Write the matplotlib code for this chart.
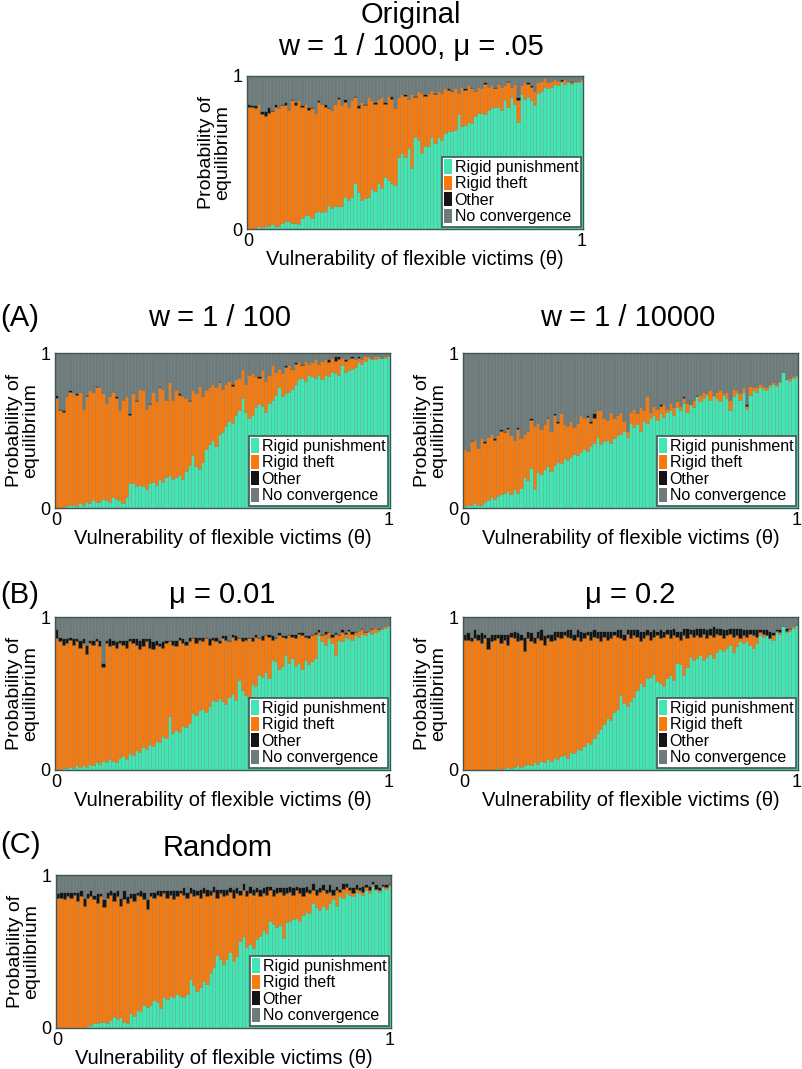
import numpy as np
import matplotlib
matplotlib.use('Agg')
import matplotlib.pyplot as plt
from matplotlib.patches import Patch

plt.rcParams['font.family'] = ['Liberation Sans', 'DejaVu Sans']

# cores
teal = '#42E6B2'
orange = '#F97A0C'
black = '#141414'
gray = '#6F7A7A'
frame = '#3E5656'

theta = np.linspace(0, 1, 101)
labels = ['Rigid punishment', 'Rigid theft', 'Other', 'No convergence']

# ---- Original  w = 1/1000, mu = .05
orig_punish = [0.0, 0.0, 0.0, 0.02, 0.01, 0.02, 0.02, 0.03, 0.02, 0.02,
               0.04, 0.05, 0.05, 0.04, 0.04, 0.03, 0.07, 0.09, 0.09, 0.07,
               0.11, 0.12, 0.11, 0.12, 0.16, 0.14, 0.15, 0.15, 0.15, 0.21,
               0.19, 0.21, 0.30, 0.24, 0.19, 0.20, 0.21, 0.26, 0.25, 0.30,
               0.27, 0.34, 0.32, 0.30, 0.29, 0.47, 0.50, 0.47, 0.53, 0.40,
               0.60, 0.58, 0.50, 0.54, 0.54, 0.60, 0.56, 0.60, 0.58, 0.63,
               0.64, 0.64, 0.65, 0.75, 0.67, 0.68, 0.70, 0.69, 0.74, 0.76,
               0.76, 0.75, 0.78, 0.79, 0.80, 0.80, 0.78, 0.84, 0.80, 0.86,
               0.82, 0.70, 0.88, 0.85, 0.86, 0.84, 0.81, 0.89, 0.90, 0.93,
               0.92, 0.93, 0.95, 0.94, 0.96, 0.95, 0.96, 0.95, 0.96, 0.96,
               0.97]
orig_theft_top = [0.80, 0.80, 0.79, 0.82, 0.75, 0.74, 0.76, 0.77, 0.80, 0.79,
                  0.81, 0.81, 0.78, 0.84, 0.81, 0.84, 0.80, 0.82, 0.78, 0.79,
                  0.76, 0.83, 0.82, 0.80, 0.79, 0.78, 0.82, 0.85, 0.81, 0.83,
                  0.80, 0.84, 0.86, 0.79, 0.83, 0.81, 0.86, 0.84, 0.82, 0.85,
                  0.86, 0.82, 0.87, 0.85, 0.79, 0.86, 0.88, 0.87, 0.85, 0.88,
                  0.86, 0.90, 0.89, 0.87, 0.89, 0.91, 0.88, 0.90, 0.89, 0.92,
                  0.91, 0.90, 0.92, 0.89, 0.93, 0.91, 0.94, 0.92, 0.90, 0.93,
                  0.92, 0.95, 0.93, 0.94, 0.92, 0.95, 0.93, 0.94, 0.96, 0.93,
                  0.95, 0.84, 0.94, 0.96, 0.95, 0.93, 0.90, 0.96, 0.97, 0.99,
                  0.96, 0.97, 0.98, 0.97, 0.97, 0.98, 0.97, 0.96, 0.97, 0.97,
                  0.98]
orig_other = [0.02, 0.01, 0.02, 0.0, 0.02, 0.03, 0.04, 0.01, 0.02, 0.0,
              0.01, 0.02, 0.0, 0.01, 0.02, 0.0, 0.01, 0.0, 0.02, 0.01,
              0.0, 0.01, 0.0, 0.02, 0.01, 0.0, 0.0, 0.01, 0.0, 0.02,
              0.0, 0.0, 0.01, 0.02, 0.0, 0.01, 0.0, 0.0, 0.01, 0.0,
              0.0, 0.01, 0.0, 0.02, 0.0, 0.0, 0.0, 0.01, 0.0, 0.0,
              0.01, 0.0, 0.0, 0.01, 0.0, 0.0, 0.01, 0.0, 0.0, 0.0,
              0.01, 0.01, 0.0, 0.0, 0.0, 0.01, 0.0, 0.01, 0.0, 0.0,
              0.0, 0.01, 0.0, 0.0, 0.01, 0.0, 0.0, 0.0, 0.01, 0.0,
              0.0, 0.02, 0.0, 0.0, 0.01, 0.01, 0.0, 0.0, 0.0, 0.0,
              0.0, 0.0, 0.0, 0.0, 0.01, 0.0, 0.0, 0.01, 0.0, 0.0,
              0.0]

# ---- (A) w = 1/100
a1_punish = [0.0, 0.0, 0.0, 0.01, 0.02, 0.02, 0.01, 0.03, 0.02, 0.04,
             0.03, 0.05, 0.04, 0.04, 0.06, 0.05, 0.04, 0.07, 0.06, 0.05,
             0.03, 0.07, 0.16, 0.16, 0.14, 0.15, 0.14, 0.12, 0.16, 0.17,
             0.15, 0.19, 0.17, 0.20, 0.21, 0.19, 0.20, 0.21, 0.19, 0.24,
             0.28, 0.34, 0.27, 0.25, 0.30, 0.38, 0.41, 0.44, 0.40, 0.48,
             0.49, 0.53, 0.56, 0.55, 0.60, 0.63, 0.71, 0.62, 0.58, 0.60,
             0.65, 0.67, 0.66, 0.62, 0.68, 0.70, 0.73, 0.78, 0.72, 0.74,
             0.75, 0.77, 0.80, 0.83, 0.84, 0.82, 0.86, 0.85, 0.84, 0.86,
             0.83, 0.86, 0.85, 0.88, 0.87, 0.86, 0.92, 0.88, 0.89, 0.90,
             0.91, 0.94, 0.93, 0.95, 0.97, 0.96, 0.96, 0.97, 0.97, 0.97,
             0.98]
a1_theft_top = [0.71, 0.63, 0.62, 0.72, 0.75, 0.74, 0.73, 0.75, 0.64, 0.72,
                0.76, 0.75, 0.78, 0.78, 0.74, 0.68, 0.72, 0.75, 0.71, 0.63,
                0.70, 0.72, 0.60, 0.74, 0.69, 0.77, 0.76, 0.64, 0.67, 0.75,
                0.69, 0.78, 0.77, 0.70, 0.81, 0.70, 0.76, 0.73, 0.72, 0.71,
                0.69, 0.76, 0.74, 0.79, 0.72, 0.76, 0.78, 0.80, 0.78, 0.81,
                0.77, 0.80, 0.82, 0.79, 0.83, 0.84, 0.90, 0.80, 0.86, 0.87,
                0.85, 0.84, 0.89, 0.82, 0.86, 0.92, 0.88, 0.90, 0.87, 0.91,
                0.92, 0.90, 0.93, 0.94, 0.92, 0.95, 0.93, 0.94, 0.96, 0.93,
                0.95, 0.96, 0.94, 0.97, 0.95, 0.96, 0.97, 0.95, 0.96, 0.97,
                0.96, 0.97, 0.96, 0.98, 0.98, 0.97, 0.98, 0.98, 0.97, 0.98,
                0.99]
a1_other = [0.02, 0.01, 0.01, 0.0, 0.01, 0.0, 0.01, 0.0, 0.0, 0.01,
            0.0, 0.0, 0.01, 0.0, 0.0, 0.0, 0.0, 0.0, 0.01, 0.0,
            0.0, 0.0, 0.01, 0.0, 0.01, 0.0, 0.0, 0.0, 0.01, 0.0,
            0.0, 0.01, 0.0, 0.0, 0.0, 0.0, 0.0, 0.01, 0.0, 0.0,
            0.01, 0.0, 0.0, 0.0, 0.0, 0.0, 0.0, 0.0, 0.0, 0.01,
            0.0, 0.0, 0.0, 0.01, 0.0, 0.0, 0.0, 0.0, 0.0, 0.0,
            0.0, 0.01, 0.0, 0.0, 0.0, 0.0, 0.0, 0.0, 0.0, 0.01,
            0.0, 0.0, 0.01, 0.0, 0.01, 0.0, 0.0, 0.0, 0.0, 0.0,
            0.0, 0.0, 0.02, 0.0, 0.03, 0.02, 0.0, 0.01, 0.0, 0.01,
            0.0, 0.01, 0.0, 0.0, 0.0, 0.0, 0.0, 0.0, 0.0, 0.0,
            0.0]

# ---- (A) w = 1/10000
a2_punish = [0.01, 0.02, 0.02, 0.03, 0.02, 0.02, 0.04, 0.05, 0.07, 0.06,
             0.08, 0.09, 0.10, 0.11, 0.09, 0.12, 0.10, 0.13, 0.20, 0.18,
             0.26, 0.12, 0.23, 0.22, 0.25, 0.27, 0.24, 0.28, 0.30, 0.29,
             0.32, 0.31, 0.33, 0.35, 0.34, 0.36, 0.38, 0.37, 0.40, 0.42,
             0.46, 0.41, 0.43, 0.44, 0.42, 0.45, 0.47, 0.48, 0.50, 0.46,
             0.55, 0.52, 0.54, 0.50, 0.56, 0.55, 0.58, 0.60, 0.57, 0.61,
             0.59, 0.62, 0.63, 0.60, 0.65, 0.63, 0.68, 0.62, 0.70, 0.65,
             0.72, 0.69, 0.71, 0.73, 0.70, 0.72, 0.71, 0.69, 0.73, 0.71,
             0.63, 0.72, 0.74, 0.70, 0.75, 0.64, 0.73, 0.76, 0.75, 0.78,
             0.77, 0.76, 0.79, 0.80, 0.79, 0.81, 0.88, 0.83, 0.82, 0.84,
             0.85]
a2_theft_top = [0.38, 0.37, 0.43, 0.44, 0.39, 0.45, 0.42, 0.46, 0.48, 0.44,
                0.47, 0.50, 0.49, 0.51, 0.47, 0.44, 0.51, 0.45, 0.48, 0.50,
                0.57, 0.53, 0.55, 0.51, 0.54, 0.58, 0.50, 0.60, 0.55, 0.61,
                0.54, 0.53, 0.56, 0.52, 0.55, 0.60, 0.58, 0.59, 0.55, 0.58,
                0.63, 0.63, 0.58, 0.57, 0.62, 0.58, 0.60, 0.62, 0.56, 0.50,
                0.62, 0.64, 0.61, 0.65, 0.63, 0.72, 0.62, 0.66, 0.64, 0.66,
                0.67, 0.64, 0.68, 0.65, 0.69, 0.66, 0.71, 0.68, 0.67, 0.70,
                0.72, 0.73, 0.75, 0.74, 0.76, 0.73, 0.75, 0.76, 0.74, 0.75,
                0.70, 0.77, 0.76, 0.74, 0.78, 0.66, 0.79, 0.78, 0.78, 0.80,
                0.79, 0.78, 0.80, 0.81, 0.80, 0.82, 0.88, 0.83, 0.84, 0.85,
                0.86]
a2_other = [0.0, 0.0, 0.01, 0.0, 0.0, 0.0, 0.01, 0.0, 0.0, 0.01,
            0.0, 0.01, 0.01, 0.01, 0.0, 0.0, 0.01, 0.0, 0.0, 0.0,
            0.01, 0.0, 0.0, 0.0, 0.0, 0.01, 0.0, 0.01, 0.01, 0.0,
            0.0, 0.0, 0.0, 0.0, 0.0, 0.0, 0.0, 0.01, 0.01, 0.03,
            0.0, 0.0, 0.0, 0.0, 0.0, 0.0, 0.0, 0.0, 0.0, 0.0,
            0.0, 0.0, 0.0, 0.0, 0.0, 0.0, 0.0, 0.0, 0.0, 0.01,
            0.0, 0.0, 0.0, 0.0, 0.0, 0.0, 0.01, 0.0, 0.0, 0.0,
            0.01, 0.0, 0.0, 0.0, 0.0, 0.0, 0.0, 0.0, 0.0, 0.0,
            0.0, 0.0, 0.0, 0.0, 0.0, 0.01, 0.0, 0.0, 0.0, 0.0,
            0.0, 0.0, 0.0, 0.0, 0.0, 0.0, 0.0, 0.0, 0.0, 0.0,
            0.0]

# ---- (B) mu = 0.01
b1_punish = [0.0, 0.0, 0.01, 0.01, 0.02, 0.01, 0.03, 0.02, 0.03, 0.02,
             0.04, 0.03, 0.05, 0.04, 0.06, 0.05, 0.07, 0.06, 0.05, 0.08,
             0.09, 0.07, 0.11, 0.10, 0.13, 0.12, 0.15, 0.14, 0.17, 0.16,
             0.19, 0.18, 0.22, 0.21, 0.35, 0.24, 0.26, 0.25, 0.29, 0.28,
             0.31, 0.37, 0.36, 0.39, 0.40, 0.38, 0.42, 0.46, 0.45, 0.47,
             0.45, 0.43, 0.48, 0.50, 0.46, 0.59, 0.52, 0.49, 0.47, 0.56,
             0.55, 0.62, 0.61, 0.64, 0.60, 0.72, 0.71, 0.66, 0.68, 0.75,
             0.70, 0.73, 0.68, 0.70, 0.66, 0.72, 0.69, 0.71, 0.73, 0.88,
             0.84, 0.82, 0.86, 0.83, 0.75, 0.85, 0.84, 0.87, 0.86, 0.85,
             0.88, 0.87, 0.89, 0.88, 0.90, 0.89, 0.90, 0.91, 0.92, 0.93,
             0.94]
b1_theft_top = [0.86, 0.84, 0.82, 0.83, 0.85, 0.82, 0.84, 0.80, 0.83, 0.76,
                0.83, 0.82, 0.84, 0.81, 0.67, 0.83, 0.81, 0.82, 0.80, 0.83,
                0.82, 0.80, 0.84, 0.83, 0.82, 0.79, 0.81, 0.84, 0.80, 0.79,
                0.82, 0.81, 0.80, 0.83, 0.84, 0.82, 0.81, 0.85, 0.83, 0.82,
                0.84, 0.86, 0.83, 0.85, 0.84, 0.86, 0.82, 0.85, 0.84, 0.83,
                0.86, 0.85, 0.84, 0.87, 0.85, 0.86, 0.84, 0.85, 0.86, 0.84,
                0.87, 0.86, 0.85, 0.88, 0.87, 0.85, 0.86, 0.88, 0.87, 0.86,
                0.88, 0.87, 0.86, 0.89, 0.88, 0.87, 0.86, 0.88, 0.89, 0.90,
                0.88, 0.89, 0.90, 0.87, 0.89, 0.88, 0.90, 0.89, 0.91, 0.89,
                0.90, 0.91, 0.92, 0.90, 0.91, 0.92, 0.93, 0.92, 0.93, 0.94,
                0.95]
b1_other = [0.06, 0.03, 0.04, 0.03, 0.02, 0.04, 0.02, 0.05, 0.03, 0.06,
            0.02, 0.03, 0.02, 0.04, 0.03, 0.02, 0.05, 0.03, 0.04, 0.02,
            0.03, 0.05, 0.02, 0.03, 0.04, 0.06, 0.05, 0.02, 0.06, 0.05,
            0.03, 0.02, 0.04, 0.02, 0.01, 0.03, 0.04, 0.02, 0.03, 0.02,
            0.03, 0.01, 0.04, 0.02, 0.03, 0.01, 0.04, 0.02, 0.03, 0.02,
            0.02, 0.03, 0.01, 0.02, 0.03, 0.01, 0.03, 0.02, 0.01, 0.03,
            0.02, 0.01, 0.03, 0.01, 0.02, 0.03, 0.01, 0.02, 0.01, 0.02,
            0.01, 0.02, 0.03, 0.01, 0.02, 0.01, 0.02, 0.01, 0.01, 0.02,
            0.01, 0.02, 0.01, 0.02, 0.01, 0.01, 0.02, 0.01, 0.01, 0.02,
            0.01, 0.0, 0.01, 0.01, 0.0, 0.01, 0.0, 0.01, 0.0, 0.0,
            0.0]

# ---- (B) mu = 0.2
b2_punish = [0.0, 0.0, 0.0, 0.0, 0.0, 0.0, 0.0, 0.0, 0.0, 0.0,
             0.01, 0.0, 0.01, 0.02, 0.01, 0.02, 0.03, 0.02, 0.03, 0.04,
             0.03, 0.05, 0.04, 0.06, 0.05, 0.07, 0.06, 0.08, 0.07, 0.09,
             0.10, 0.08, 0.12, 0.11, 0.14, 0.13, 0.16, 0.18, 0.17, 0.21,
             0.24, 0.27, 0.30, 0.34, 0.33, 0.38, 0.40, 0.49, 0.44, 0.42,
             0.45, 0.48, 0.52, 0.57, 0.55, 0.60, 0.61, 0.63, 0.58, 0.57,
             0.55, 0.60, 0.62, 0.59, 0.70, 0.69, 0.62, 0.67, 0.74, 0.72,
             0.73, 0.75, 0.72, 0.74, 0.76, 0.73, 0.77, 0.79, 0.78, 0.80,
             0.82, 0.77, 0.81, 0.84, 0.83, 0.84, 0.82, 0.80, 0.83, 0.88,
             0.87, 0.88, 0.86, 0.85, 0.90, 0.89, 0.94, 0.90, 0.91, 0.93,
             0.95]
b2_theft_top = [0.85, 0.85, 0.84, 0.86, 0.85, 0.83, 0.86, 0.79, 0.84, 0.85,
                0.86, 0.83, 0.85, 0.82, 0.87, 0.86, 0.84, 0.85, 0.78, 0.86,
                0.84, 0.83, 0.86, 0.85, 0.82, 0.86, 0.84, 0.85, 0.87, 0.86,
                0.88, 0.87, 0.86, 0.85, 0.87, 0.84, 0.86, 0.88, 0.85, 0.87,
                0.86, 0.84, 0.87, 0.85, 0.86, 0.88, 0.87, 0.86, 0.85, 0.89,
                0.86, 0.88, 0.87, 0.84, 0.86, 0.88, 0.85, 0.87, 0.88, 0.86,
                0.87, 0.89, 0.86, 0.88, 0.87, 0.85, 0.88, 0.86, 0.89, 0.87,
                0.88, 0.87, 0.89, 0.86, 0.88, 0.87, 0.89, 0.88, 0.86, 0.88,
                0.89, 0.87, 0.88, 0.86, 0.88, 0.87, 0.89, 0.88, 0.87, 0.90,
                0.89, 0.88, 0.86, 0.88, 0.91, 0.90, 0.94, 0.91, 0.92, 0.94,
                0.95]
b2_other = [0.04, 0.05, 0.03, 0.06, 0.04, 0.07, 0.03, 0.08, 0.05, 0.04,
            0.03, 0.06, 0.04, 0.07, 0.03, 0.05, 0.06, 0.04, 0.09, 0.05,
            0.06, 0.04, 0.05, 0.07, 0.06, 0.03, 0.05, 0.06, 0.04, 0.05,
            0.03, 0.05, 0.06, 0.04, 0.05, 0.07, 0.04, 0.03, 0.06, 0.05,
            0.05, 0.07, 0.04, 0.06, 0.05, 0.03, 0.05, 0.06, 0.04, 0.03,
            0.06, 0.04, 0.05, 0.07, 0.05, 0.04, 0.06, 0.05, 0.03, 0.06,
            0.04, 0.03, 0.06, 0.05, 0.04, 0.06, 0.05, 0.07, 0.03, 0.05,
            0.05, 0.06, 0.04, 0.06, 0.05, 0.07, 0.04, 0.05, 0.06, 0.04,
            0.04, 0.06, 0.05, 0.07, 0.04, 0.05, 0.03, 0.04, 0.05, 0.02,
            0.03, 0.04, 0.05, 0.02, 0.01, 0.02, 0.0, 0.02, 0.01, 0.0,
            0.0]

# ---- (C) Random
c_punish = [0.0, 0.0, 0.0, 0.0, 0.0, 0.0, 0.0, 0.0, 0.0, 0.01,
            0.02, 0.03, 0.03, 0.04, 0.04, 0.03, 0.05, 0.07, 0.06, 0.07,
            0.04, 0.03, 0.10, 0.08, 0.12, 0.11, 0.15, 0.14, 0.15, 0.18,
            0.17, 0.13, 0.20, 0.19, 0.21, 0.20, 0.22, 0.21, 0.20, 0.22,
            0.32, 0.28, 0.24, 0.27, 0.31, 0.29, 0.36, 0.40, 0.48, 0.45,
            0.42, 0.45, 0.50, 0.44, 0.47, 0.57, 0.60, 0.53, 0.55, 0.52,
            0.58, 0.60, 0.64, 0.62, 0.70, 0.68, 0.66, 0.67, 0.59, 0.69,
            0.70, 0.71, 0.72, 0.70, 0.74, 0.76, 0.75, 0.82, 0.79, 0.77,
            0.80, 0.78, 0.82, 0.84, 0.80, 0.86, 0.85, 0.88, 0.87, 0.86,
            0.89, 0.88, 0.87, 0.90, 0.88, 0.93, 0.90, 0.89, 0.92, 0.91,
            0.93]
c_theft_top = [0.85, 0.85, 0.84, 0.86, 0.85, 0.87, 0.83, 0.86, 0.80, 0.85,
               0.86, 0.84, 0.82, 0.86, 0.79, 0.85, 0.87, 0.83, 0.86, 0.80,
               0.84, 0.82, 0.85, 0.83, 0.87, 0.86, 0.84, 0.78, 0.86, 0.85,
               0.87, 0.86, 0.88, 0.85, 0.87, 0.84, 0.86, 0.88, 0.87, 0.85,
               0.88, 0.86, 0.87, 0.85, 0.88, 0.86, 0.87, 0.89, 0.85, 0.88,
               0.86, 0.87, 0.89, 0.85, 0.88, 0.87, 0.90, 0.86, 0.88, 0.87,
               0.89, 0.86, 0.88, 0.87, 0.90, 0.86, 0.88, 0.89, 0.87, 0.88,
               0.89, 0.87, 0.90, 0.88, 0.86, 0.89, 0.88, 0.90, 0.87, 0.89,
               0.90, 0.88, 0.89, 0.87, 0.90, 0.89, 0.91, 0.92, 0.90, 0.88,
               0.91, 0.90, 0.89, 0.92, 0.90, 0.94, 0.91, 0.90, 0.93, 0.92,
               0.94]
c_other = [0.03, 0.04, 0.05, 0.03, 0.04, 0.02, 0.06, 0.04, 0.05, 0.03,
           0.04, 0.03, 0.06, 0.02, 0.05, 0.04, 0.03, 0.06, 0.04, 0.05,
           0.06, 0.04, 0.03, 0.05, 0.02, 0.04, 0.05, 0.06, 0.03, 0.04,
           0.03, 0.04, 0.02, 0.05, 0.03, 0.06, 0.04, 0.02, 0.05, 0.04,
           0.04, 0.05, 0.03, 0.06, 0.04, 0.05, 0.03, 0.04, 0.06, 0.03,
           0.05, 0.04, 0.03, 0.06, 0.04, 0.03, 0.05, 0.04, 0.05, 0.04,
           0.03, 0.05, 0.04, 0.06, 0.03, 0.05, 0.04, 0.03, 0.05, 0.04,
           0.04, 0.05, 0.03, 0.04, 0.06, 0.04, 0.03, 0.05, 0.04, 0.03,
           0.04, 0.03, 0.05, 0.04, 0.03, 0.02, 0.04, 0.03, 0.02, 0.04,
           0.03, 0.02, 0.04, 0.02, 0.03, 0.02, 0.03, 0.02, 0.01, 0.02,
           0.01]

W, H = 802, 1069
fig = plt.figure(figsize=(W / 100, H / 100), dpi=100)


def px_rect(x0, y0, x1, y1):
    return [x0 / W, 1 - y1 / H, (x1 - x0) / W, (y1 - y0) / H]


def ftext(x, y, s, size=21, **kw):
    fig.text(x / W, 1 - y / H, s, fontsize=size, ha='center', va='center', **kw)


def painel(rect, punish, theft_top, other):
    ax = fig.add_axes(px_rect(*rect))
    p = np.array(punish)
    top = np.array(theft_top)
    o = np.array(other)
    t = top - p
    n = 1 - top - o
    base = np.zeros_like(p)
    for vals, cor in zip((p, t, o, n), (teal, orange, black, gray)):
        ax.bar(theta, vals, width=0.01, bottom=base, color=cor,
               edgecolor=(0.15, 0.25, 0.25, 0.3), linewidth=0.4)
        base = base + vals
    ax.set_xlim(-0.005, 1.005)
    ax.set_ylim(0, 1)
    ax.set_xticks([0, 1], ['0', '1'])
    ax.set_yticks([0, 1], ['0', '1'])
    ax.tick_params(length=0, labelsize=13, pad=3)
    for s in ax.spines.values():
        s.set_color(frame)
        s.set_linewidth(1.0)
    ax.set_xlabel('Vulnerability of flexible victims (θ)', fontsize=14.5, labelpad=0)
    ax.set_ylabel('Probability of\nequilibrium', fontsize=14, labelpad=1,
                  linespacing=0.95)
    handles = [Patch(facecolor=c, edgecolor='none') for c in (teal, orange, black, gray)]
    leg = ax.legend(handles, labels, loc='lower right', fontsize=11.5,
                    handlelength=0.5, handleheight=1.0, handletextpad=0.15,
                    labelspacing=0.05, borderpad=0.15, borderaxespad=0.15,
                    fancybox=False, framealpha=1)
    leg.get_frame().set_edgecolor(frame)
    leg.get_frame().set_linewidth(1.2)
    return ax


painel((247, 76, 583, 229), orig_punish, orig_theft_top, orig_other)
painel((55, 353, 390, 508), a1_punish, a1_theft_top, a1_other)
painel((463, 353, 798, 508), a2_punish, a2_theft_top, a2_other)
painel((55, 617, 390, 770), b1_punish, b1_theft_top, b1_other)
painel((463, 617, 798, 770), b2_punish, b2_theft_top, b2_other)
painel((56, 875, 391, 1028), c_punish, c_theft_top, c_other)

ftext(411, 15, 'Original')
ftext(411, 47, 'w = 1 / 1000, μ = .05')
ftext(20, 318, '(A)')
ftext(220, 318, 'w = 1 / 100')
ftext(628, 318, 'w = 1 / 10000')
ftext(20, 595, '(B)')
ftext(222, 595, 'μ = 0.01')
ftext(630, 595, 'μ = 0.2')
ftext(20, 845, '(C)')
ftext(218, 848, 'Random')

plt.savefig('out.png', dpi=100)
